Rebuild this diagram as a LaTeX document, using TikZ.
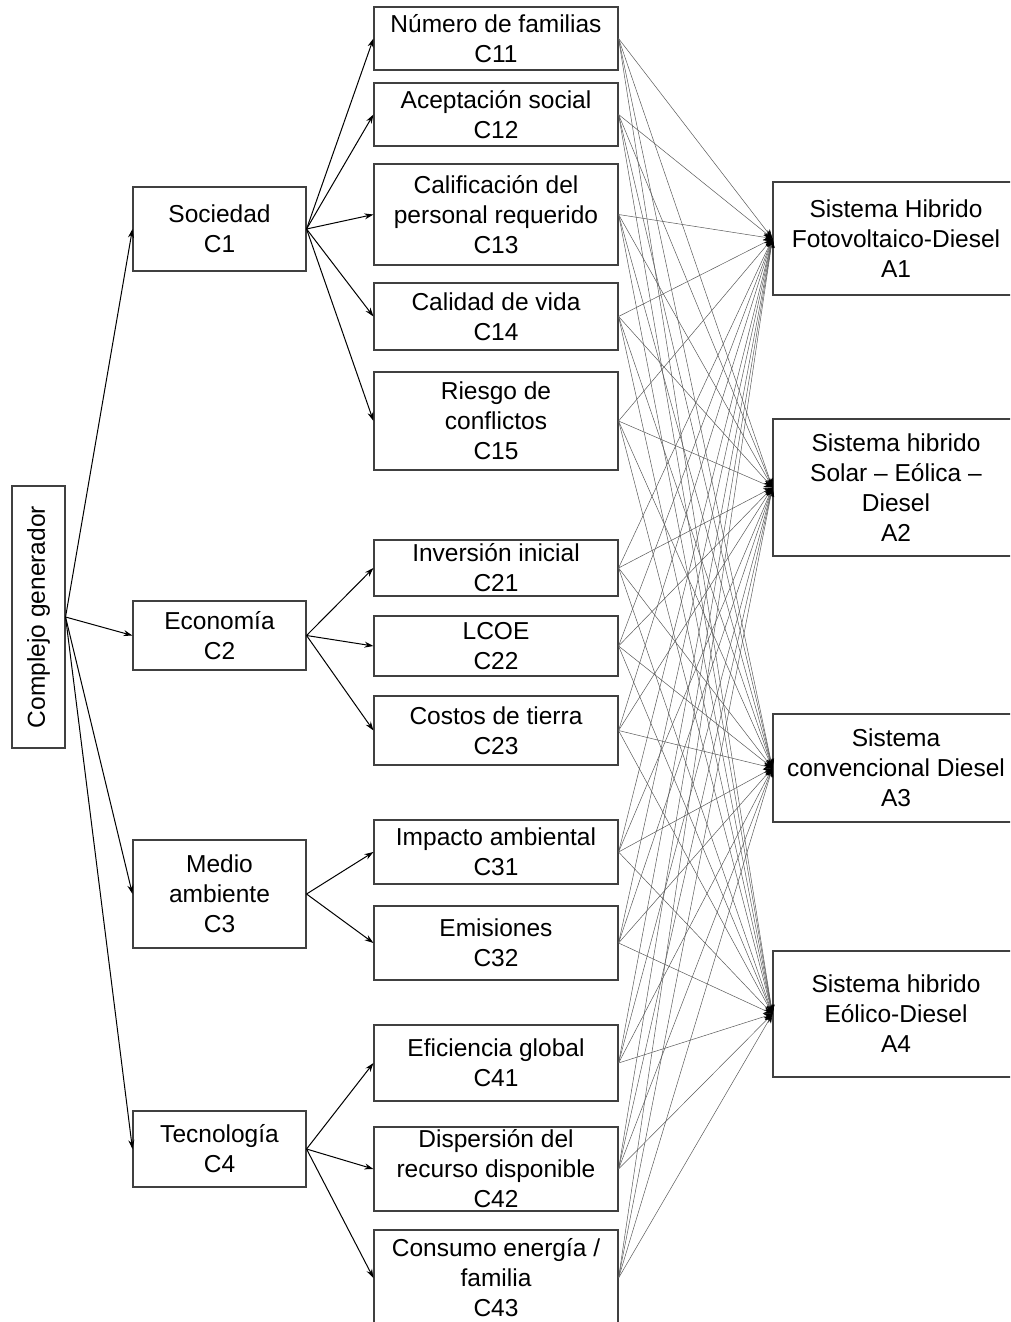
\documentclass[tikz,border=0pt]{standalone}
\usepackage{fontspec}
\setmainfont{Liberation Sans}
\usepackage{graphicx}
\usetikzlibrary{arrows.meta}
\begin{document}
\begin{tikzpicture}[x=1pt,y=-1pt,
  box/.style={draw=black!75, line width=1.1pt, align=center, inner sep=0pt,
    font=\fontsize{24.5}{30}\selectfont},
  cbox/.style={box, minimum width=244pt},
  mbox/.style={box, minimum width=173pt},
  abox/.style={box, minimum width=246pt},
  tree/.style={line width=1pt, -{Stealth[length=9pt,width=6pt]}},
  link/.style={draw=black!65, line width=0.5pt, -{Stealth[length=9pt,width=7pt,black]}},
]
\path[use as bounding box, clip] (0,0) rectangle (1010,1322);

% left root
\node[box, minimum width=53pt, minimum height=262pt] (cg) at (38.5,617) {\rotatebox{90}{Complejo generador}};

% middle column
\node[mbox, minimum height=84pt] (c1) at (219.5,229) {Sociedad\\C1};
\node[mbox, minimum height=69pt] (c2) at (219.5,635.5) {Economía\\C2};
\node[mbox, minimum height=108pt] (c3) at (219.5,894) {Medio\\ambiente\\C3};
\node[mbox, minimum height=76pt] (c4) at (219.5,1149) {Tecnología\\C4};

% criteria column
\node[cbox, minimum height=63pt] (c11) at (496,38.5) {Número de familias\\C11};
\node[cbox, minimum height=63pt] (c12) at (496,114.5) {Aceptación social\\C12};
\node[cbox, minimum height=101pt] (c13) at (496,214.5) {Calificación del\\personal requerido\\C13};
\node[cbox, minimum height=67pt] (c14) at (496,316.5) {Calidad de vida\\C14};
\node[cbox, minimum height=98pt] (c15) at (496,421) {Riesgo de\\conflictos\\C15};
\node[cbox, minimum height=56pt] (c21) at (496,568) {Inversión inicial\\C21};
\node[cbox, minimum height=60pt] (c22) at (496,646) {LCOE\\C22};
\node[cbox, minimum height=69pt] (c23) at (496,730.5) {Costos de tierra\\C23};
\node[cbox, minimum height=64pt] (c31) at (496,852) {Impacto ambiental\\C31};
\node[cbox, minimum height=74pt] (c32) at (496,943) {Emisiones\\C32};
\node[cbox, minimum height=76pt] (c41) at (496,1063) {Eficiencia global\\C41};
\node[cbox, minimum height=84pt] (c42) at (496,1169) {Dispersión del\\recurso disponible\\C42};
\node[cbox, minimum height=96pt] (c43) at (496,1278) {Consumo energía /\\familia\\C43};

% alternatives
\node[abox, minimum height=113pt] (a1) at (896,238.5) {Sistema Hibrido\\Fotovoltaico-Diesel\\A1};
\node[abox, minimum height=137pt] (a2) at (896,487.5) {Sistema hibrido\\Solar – Eólica –\\Diesel\\A2};
\node[abox, minimum height=108pt] (a3) at (896,768) {Sistema\\convencional Diesel\\A3};
\node[abox, minimum height=126pt] (a4) at (896,1014) {Sistema hibrido\\Eólico-Diesel\\A4};

% tree arrows
\foreach \m in {c1,c2,c3,c4} \draw[tree] (cg.east) -- (\m.west);
\foreach \c in {c11,c12,c13,c14,c15} \draw[tree] (c1.east) -- (\c.west);
\foreach \c in {c21,c22,c23} \draw[tree] (c2.east) -- (\c.west);
\foreach \c in {c31,c32} \draw[tree] (c3.east) -- (\c.west);
\foreach \c in {c41,c42,c43} \draw[tree] (c4.east) -- (\c.west);

% links criteria -> alternatives
\foreach \c in {c11,c12,c13,c14,c15,c21,c22,c23,c31,c32,c41,c42,c43}
  \foreach \a in {a1,a2,a3,a4}
    \draw[link] (\c.east) -- (\a.west);
\end{tikzpicture}
\end{document}
